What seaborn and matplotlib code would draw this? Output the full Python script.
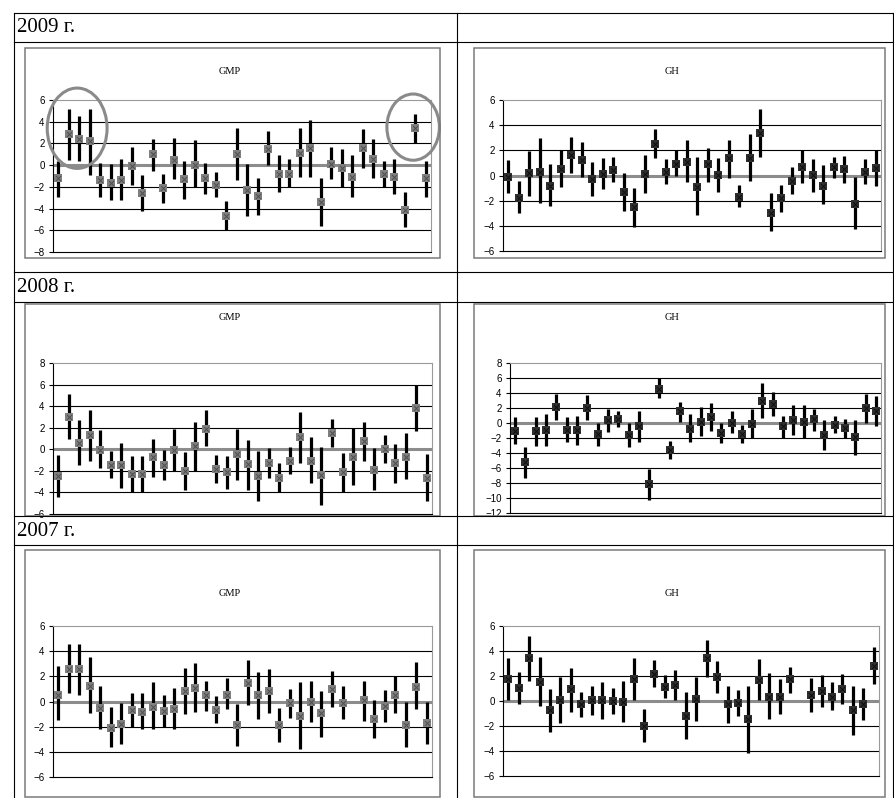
import numpy as np
import pandas as pd
import matplotlib.pyplot as plt
import seaborn as sns
from matplotlib.lines import Line2D
from matplotlib.patches import Rectangle, Ellipse

nan = np.nan

# 2009
gmp09_mid = [-1.2, 2.9, 2.4, 2.2, -1.4, -1.6, -1.4, -0.1, -2.6, 1.0, -2.1, 0.5, -1.3, 0.0, -1.2, -1.8, -4.7, 1.0,
             -2.3, -2.8, 1.5, -0.8, -0.8, 1.1, 1.6, -3.4, 0.1, -0.3, -1.1, 1.6, 0.6, -0.8, -1.1, -4.1, 3.4, -1.2]
gmp09_lo = [-2.9, 0.5, 0.4, -0.9, -2.9, -3.2, -3.2, -1.8, -4.2, -0.5, -3.5, -1.3, -3.1, -2.0, -2.7, -2.9, -6.0, -1.4,
            -4.7, -4.6, 0.0, -2.5, -2.0, -1.1, -1.1, -5.6, -1.3, -2.0, -2.9, -0.3, -1.2, -2.0, -2.7, -5.7, 2.0, -2.9]
gmp09_hi = [0.4, 5.2, 4.5, 5.2, 0.2, 0.1, 0.6, 1.7, -0.9, 2.4, -0.8, 2.5, 0.4, 2.3, 0.2, -0.6, -3.3, 3.4,
            0.1, -1.2, 3.1, 0.9, 0.6, 3.4, 4.2, -1.2, 1.7, 1.5, 0.9, 3.3, 2.4, 0.4, 0.6, -2.5, 4.7, 0.4]

gh09_mid = [-0.1, -1.75, 0.2, 0.25, -0.8, 0.55, 1.6, 1.25, -0.25, 0.1, 0.4, -1.3, -2.5, 0.1, 2.5, 0.3, 0.95, 1.1,
            -0.9, 0.9, 0.05, 1.4, -1.7, 1.4, 3.4, -2.95, -1.8, -0.45, 0.65, 0.05, -0.8, 0.65, 0.55, -2.25, 0.3, 0.6]
gh09_lo = [-1.4, -3.0, -1.6, -2.2, -2.45, -0.9, 0.2, -0.15, -1.6, -1.05, -0.55, -2.8, -4.1, -1.4, 1.4, -0.65, -0.05, -0.55,
           -3.1, -0.5, -1.3, -0.2, -2.5, -0.4, 1.5, -4.45, -2.9, -1.5, -0.6, -1.3, -2.3, -0.2, -0.6, -4.25, -0.65, -0.85]
gh09_hi = [1.2, -0.4, 1.95, 2.95, 0.95, 2.05, 3.05, 2.7, 1.1, 1.4, 1.5, 0.2, -1.0, 1.65, 3.7, 1.35, 2.05, 2.85,
           1.45, 2.2, 1.4, 2.85, -0.75, 3.3, 5.3, -1.4, -0.75, 0.7, 2.05, 1.35, 0.8, 1.5, 1.55, -0.15, 1.35, 2.05]

# 2008
gmp08_mid = [-2.5, 3.0, 0.55, 1.3, -0.05, -1.5, -1.5, -2.3, -2.3, -0.75, -1.5, -0.05, -2.05, 0.35, 1.9, -1.8, -2.1, -0.45,
             -1.4, -2.5, -1.3, -2.7, -1.1, 1.15, -1.1, -2.4, 1.55, -2.1, -0.7, 0.75, -1.9, 0.0, -1.3, -0.7, 3.85, -2.7]
gmp08_lo = [-4.4, 1.0, -1.5, -1.1, -1.75, -2.7, -3.6, -4.0, -4.0, -2.55, -2.85, -2.0, -3.75, -2.0, 0.3, -3.1, -3.7, -2.85,
            -3.75, -4.75, -2.7, -3.95, -2.3, -1.25, -3.15, -5.15, 0.25, -3.95, -3.3, -1.1, -3.75, -1.25, -3.15, -2.75, 1.7, -4.8]
gmp08_hi = [-0.5, 5.1, 2.75, 3.6, 1.75, -0.15, 0.6, -0.6, -0.6, 1.0, -0.1, 1.85, -0.25, 2.5, 3.6, -0.5, -0.6, 1.85,
            0.9, -0.15, 0.1, -1.3, 0.25, 3.5, 1.1, 0.25, 2.85, -0.3, 2.0, 2.55, 0.1, 1.3, 0.5, 1.5, 6.0, -0.45]

gh08_mid = [-1.05, -5.2, -1.1, -0.9, 2.15, -0.9, -0.9, 2.0, -1.5, 0.35, 0.6, -1.65, -0.4, -8.1, 4.5, -3.55, 1.55, -0.75,
            0.15, 0.8, -1.3, 0.05, -1.5, -0.1, 2.95, 2.5, -0.4, 0.35, 0.2, 0.6, -1.65, -0.2, -0.65, -1.85, 2.0, 1.55]
gh08_lo = [-2.85, -7.35, -3.05, -3.05, 0.45, -2.55, -2.9, 0.35, -3.1, -1.2, -0.55, -3.2, -2.55, -10.2, 3.35, -4.85, 0.15, -2.55,
           -1.75, -1.1, -2.65, -1.35, -2.65, -1.95, 0.65, 0.9, -1.95, -1.65, -1.95, -1.0, -3.65, -1.3, -1.95, -4.2, 0.05, -0.4]
gh08_hi = [0.8, -3.2, 0.8, 1.25, 3.9, 0.8, 1.0, 3.7, 0.05, 1.9, 1.55, 0.05, 1.55, -6.1, 5.95, -2.4, 2.8, 1.15,
           2.15, 2.65, 0.05, 1.55, -0.3, 1.9, 5.4, 4.15, 1.0, 2.35, 2.35, 1.9, 0.45, 0.95, 0.6, 0.35, 3.9, 3.6]

# 2007
gmp07_mid = [0.55, 2.6, 2.6, 1.25, -0.5, -2.1, -1.8, -0.65, -0.85, -0.4, -0.75, -0.6, 0.8, 1.1, 0.5, -0.65, 0.55, -1.85,
             1.5, 0.55, 0.85, -1.85, -0.1, -1.15, 0.0, -0.95, 1.0, -0.1, nan, 0.1, -1.4, -0.35, 0.55, -1.85, 1.15, -1.7]
gmp07_lo = [-1.5, 0.7, 0.5, -0.9, -2.2, -3.65, -3.4, -2.0, -2.2, -2.2, -2.0, -2.15, -1.0, -0.85, -0.75, -1.7, -0.6, -3.5,
            -0.3, -1.4, -0.9, -3.25, -1.3, -3.8, -1.6, -2.8, -0.4, -1.4, nan, -1.55, -2.9, -1.6, -0.95, -3.6, -0.6, -3.4]
gmp07_hi = [2.8, 4.55, 4.55, 3.5, 1.25, -0.45, -0.1, 0.7, 0.7, 1.55, 0.5, 1.1, 2.65, 3.05, 1.65, 0.4, 1.85, -0.2,
            3.3, 2.35, 2.6, -0.5, 1.0, 1.55, 1.6, 0.85, 2.45, 1.2, nan, 1.6, 0.15, 0.95, 2.05, -0.05, 3.1, -0.05]

gh07_mid = [1.75, 1.05, 3.45, 1.55, -0.75, 0.1, 0.95, -0.25, 0.05, 0.1, 0.0, -0.1, 1.75, -2.0, 2.2, 1.1, 1.25, -1.2,
            0.2, 3.45, 1.9, -0.25, -0.15, -1.4, 1.7, 0.35, 0.35, 1.75, nan, 0.5, 0.8, 0.35, 0.95, -0.75, -0.25, 2.8]
gh07_lo = [0.05, -0.25, 1.6, -0.4, -2.45, -1.75, -0.85, -1.25, -1.15, -1.4, -1.0, -1.7, 0.1, -3.3, 1.15, 0.25, 0.05, -3.0,
           -1.6, 1.95, 0.65, -1.75, -1.2, -4.15, 0.1, -1.4, -1.0, 0.65, nan, -0.9, -0.45, -0.7, -0.2, -2.7, -1.55, 1.35]
gh07_hi = [3.45, 2.35, 5.2, 3.55, 0.95, 1.95, 2.65, 0.7, 1.2, 1.5, 1.05, 1.6, 3.45, -0.6, 3.3, 2.05, 2.5, 0.7,
           1.95, 4.85, 3.2, 1.2, 0.85, 1.2, 3.35, 2.25, 1.75, 2.7, nan, 1.85, 2.1, 1.5, 2.2, 1.2, 1.05, 4.3]

years = ['2009 г.', '2008 г.', '2007 г.']
titles = ['GMP', 'GH']

W, H = 895, 798
fig = plt.figure(figsize=(W / 100, H / 100), dpi=100)
fig.patch.set_facecolor('white')

SERIF = ['Liberation Serif', 'DejaVu Serif']
SANS = ['Liberation Sans', 'DejaVu Sans']


def add_axes_px(x0, y0, x1, y1):
    return fig.add_axes([x0 / W, 1 - y1 / H, (x1 - x0) / W, (y1 - y0) / H])


def hline(y, x0=14, x1=893):
    fig.add_artist(Line2D([x0 / W, x1 / W], [1 - y / H, 1 - y / H], color='black', lw=0.8))


def vline(x, y0, y1):
    fig.add_artist(Line2D([x / W, x / W], [1 - y0 / H, 1 - y1 / H], color='black', lw=0.8))


def box(x0, y0, x1, y1):
    fig.add_artist(Rectangle((x0 / W, 1 - y1 / H), (x1 - x0) / W, (y1 - y0) / H,
                             transform=fig.transFigure, fill=False, ec='#7a7a7a', lw=1.1))


def draw_panel(ax, mid, lo, hi, ymin, ymax, face, cross):
    df = pd.DataFrame({'obs': np.arange(1, len(mid) + 1), 'mid': mid, 'lo': lo, 'hi': hi}).dropna()
    for v in range(ymin + 2, ymax, 2):
        if v != 0:
            ax.axhline(v, color='black', lw=0.8, zorder=1)
    ax.axhline(0, color='#8c8c8c', lw=2.2, zorder=2)
    ax.vlines(df['obs'], df['lo'], df['hi'], color='black', lw=2.3, zorder=3)
    sns.scatterplot(data=df, x='obs', y='mid', marker='s', s=38, color=face, linewidth=0,
                    ax=ax, zorder=4, legend=False)
    sns.scatterplot(data=df, x='obs', y='mid', marker='x', s=12, color=cross, linewidth=0.7,
                    ax=ax, zorder=5, legend=False)
    ax.set_xlim(0.5, len(mid) + 0.5)
    ax.set_ylim(ymin, ymax)
    ax.set_yticks(range(ymin, ymax + 1, 2))
    ax.set_xticks([])
    ax.set_xlabel('')
    ax.set_ylabel('')
    ax.tick_params(axis='y', length=3, width=0.8, pad=3, labelsize=7)
    for lab in ax.get_yticklabels():
        lab.set_fontfamily(SANS)
    ax.spines['left'].set_color('black')
    ax.spines['bottom'].set_color('black')
    ax.spines['top'].set_color('#9a9a9a')
    ax.spines['right'].set_color('#9a9a9a')
    for sp in ax.spines.values():
        sp.set_linewidth(0.8)
    ax.set_facecolor('none')


# table frame
for y in [13, 42, 272, 302, 516, 545]:
    hline(y)
vline(14, 13, 798)
vline(893, 13, 798)
vline(457, 13, 798)

header_y = [28, 288, 531]
for t, y in zip(years, header_y):
    fig.text(17 / W, 1 - y / H, t, family=SERIF, fontsize=15, va='center', ha='left')

GMP_FACE, GMP_CROSS = '#7f7f7f', '#4d4d4d'
GH_FACE, GH_CROSS = '#2e2e2e', '#0d0d0d'

# 2009
box(25, 48, 440, 258)
box(474, 48, 885, 258)
fig.text(230 / W, 1 - 72 / H, titles[0], family=SERIF, fontsize=7.5, ha='center', va='center')
fig.text(672 / W, 1 - 72 / H, titles[1], family=SERIF, fontsize=7.5, ha='center', va='center')
ax = add_axes_px(53, 100, 431, 252)
draw_panel(ax, gmp09_mid, gmp09_lo, gmp09_hi, -8, 6, GMP_FACE, GMP_CROSS)
ax.add_patch(Ellipse((2.8, 3.4), 5.7, 7.4, fill=False, ec='#8a8a8a', lw=2.2, clip_on=False, zorder=6))
ax.add_patch(Ellipse((34.8, 3.5), 5.0, 6.1, fill=False, ec='#8a8a8a', lw=2.2, clip_on=False, zorder=6))
ax = add_axes_px(503, 100, 881, 251)
draw_panel(ax, gh09_mid, gh09_lo, gh09_hi, -6, 6, GH_FACE, GH_CROSS)

# 2008
box(25, 304, 440, 516)
box(474, 304, 885, 516)
fig.text(230 / W, 1 - 318 / H, titles[0], family=SERIF, fontsize=7.5, ha='center', va='center')
fig.text(672 / W, 1 - 318 / H, titles[1], family=SERIF, fontsize=7.5, ha='center', va='center')
ax = add_axes_px(53, 363, 432, 514)
draw_panel(ax, gmp08_mid, gmp08_lo, gmp08_hi, -6, 8, GMP_FACE, GMP_CROSS)
ax = add_axes_px(510, 363, 881, 513)
draw_panel(ax, gh08_mid, gh08_lo, gh08_hi, -12, 8, GH_FACE, GH_CROSS)

# 2007
box(25, 550, 440, 797)
box(474, 550, 885, 797)
fig.text(230 / W, 1 - 593 / H, titles[0], family=SERIF, fontsize=7.5, ha='center', va='center')
fig.text(672 / W, 1 - 593 / H, titles[1], family=SERIF, fontsize=7.5, ha='center', va='center')
ax = add_axes_px(53, 626, 432, 777)
draw_panel(ax, gmp07_mid, gmp07_lo, gmp07_hi, -6, 6, GMP_FACE, GMP_CROSS)
ax = add_axes_px(503, 626, 879, 776)
draw_panel(ax, gh07_mid, gh07_lo, gh07_hi, -6, 6, GH_FACE, GH_CROSS)

fig.savefig('out.png', dpi=100, facecolor='white')
